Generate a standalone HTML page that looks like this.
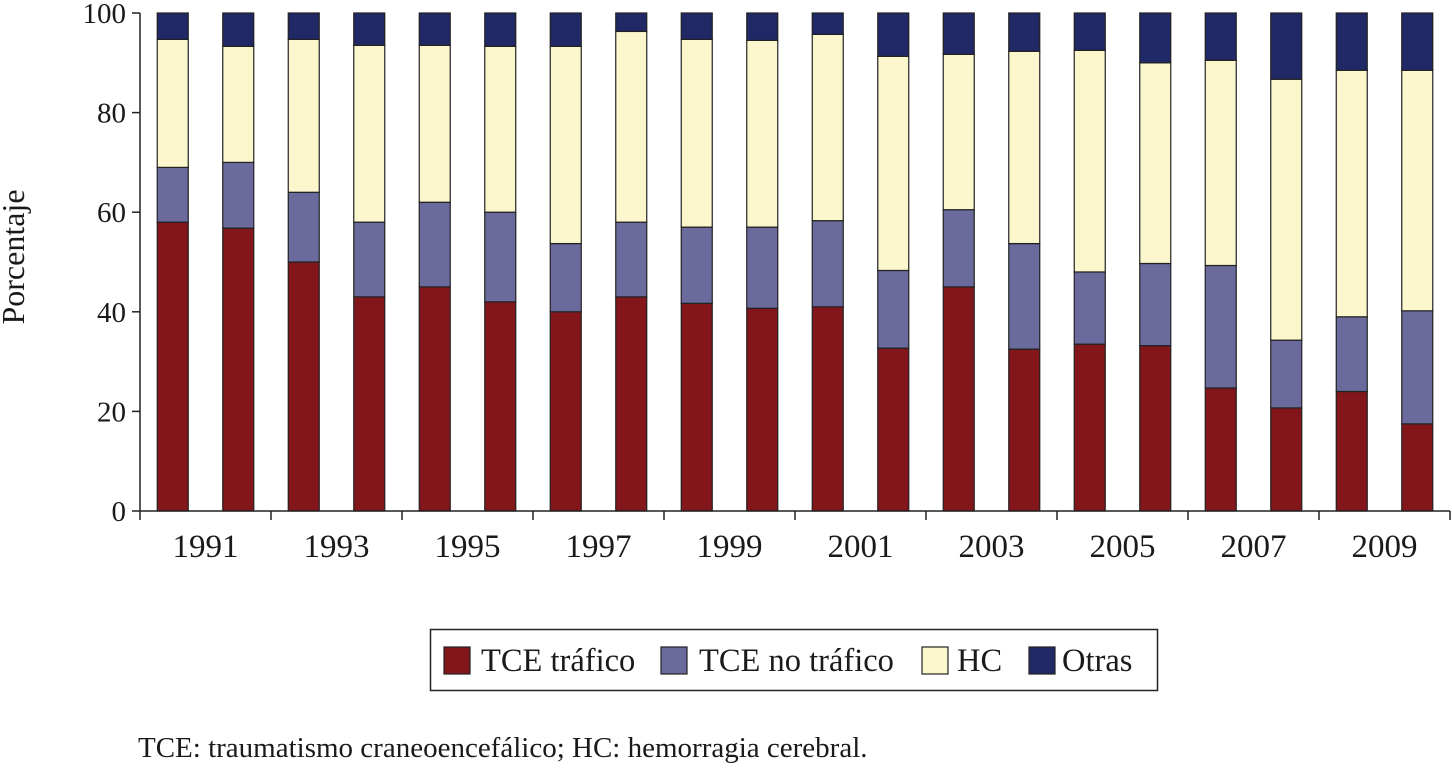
<!DOCTYPE html>
<html><head><meta charset="utf-8"><style>
body{margin:0;background:#fff;}
svg text{font-family:"Liberation Serif",serif;fill:#1a1a1a;}
</style></head><body>
<svg id="c" width="1452" height="764" xmlns="http://www.w3.org/2000/svg"></svg>
<script>
const years=[1991,1992,1993,1994,1995,1996,1997,1998,1999,2000,2001,2002,2003,2004,2005,2006,2007,2008,2009,2010];
const tickLabels=["1991","1993","1995","1997","1999","2001","2003","2005","2007","2009"];
const yTicks=[0,20,40,60,80,100];
const tceTrafico=[58,56.8,50,43,45,42,40,43,41.7,40.7,41,32.7,45,32.5,33.5,33.2,24.7,20.7,24,17.5];
const tceNoTrafico=[11,13.2,14,15,17,18,13.7,15,15.3,16.3,17.3,15.6,15.5,21.2,14.5,16.5,24.6,13.6,15,22.7];
const hc=[25.7,23.3,30.7,35.5,31.5,33.3,39.6,38.3,37.7,37.5,37.4,43,31.2,38.6,44.5,40.3,41.2,52.4,49.5,48.3];
const otras=[5.3,6.7,5.3,6.5,6.5,6.7,6.7,3.7,5.3,5.5,4.3,8.7,8.3,7.7,7.5,10,9.5,13.3,11.5,11.5];
const series=[["tce-trafico",tceTrafico,"#82161b"],["tce-no-trafico",tceNoTrafico,"#6a6a9c"],["hc",hc,"#fbf6cc"],["otras",otras,"#212866"]];
const NS="http://www.w3.org/2000/svg",svg=document.getElementById('c');
const x0=140,x1=1450,y0=511,y1=13,bw=31;
const cw=(x1-x0)/years.length;
const X=i=>x0+cw*(i+0.5);
const Y=v=>y0-(v/100)*(y0-y1);
function mk(t,a,p){const e=document.createElementNS(NS,t);for(const k in a)e.setAttribute(k,a[k]);(p||svg).appendChild(e);return e;}
years.forEach((yr,i)=>{
  let cum=0;
  series.forEach(s=>{
    const v=s[1][i];
    const r=mk('rect',{x:X(i)-bw/2,y:Y(cum+v),width:bw,height:Y(cum)-Y(cum+v),fill:s[2],stroke:'#222','stroke-width':1.2});
    
    
    cum+=v;
  });
});
let a=mk('line',{x1:x0,y1:y1,x2:x0,y2:y0,stroke:'#222','stroke-width':1.5});

a=mk('line',{x1:x0,y1:y0,x2:x1,y2:y0,stroke:'#222','stroke-width':1.5});

yTicks.forEach(v=>{
  const l=mk('line',{x1:x0-8,y1:Y(v),x2:x0,y2:Y(v),stroke:'#222','stroke-width':1.5});
  
  const t=mk('text',{x:x0-14,y:Y(v)+10,'text-anchor':'end','font-size':29});
  t.textContent=v;
  
});
for(let k=0;k<=years.length;k+=2){
  const l=mk('line',{x1:x0+cw*k,y1:y0,x2:x0+cw*k,y2:y0+9,stroke:'#222','stroke-width':1.5});
  
}
tickLabels.forEach((lab,j)=>{
  const t=mk('text',{x:x0+cw*(2*j+1),y:557,'text-anchor':'middle','font-size':33});
  t.textContent=lab;
  
});
let t=mk('text',{x:0,y:0,'text-anchor':'middle','font-size':32,transform:'translate(24,257) rotate(-90)'});
t.textContent='Porcentaje';

const lg=mk('g',{});

mk('rect',{x:430.5,y:629.5,width:727,height:61,fill:'#fff',stroke:'#222','stroke-width':1.5},lg);
const leg=[["TCE tráfico",444,481],["TCE no tráfico",661,699],["HC",922,957],["Otras",1029,1062]];
leg.forEach((L,i)=>{
  const g=mk('g',{},lg);
  
  mk('rect',{x:L[1],y:647,width:26,height:27,fill:series[i][2],stroke:'#222','stroke-width':1.2},g);
  const tt=mk('text',{x:L[2],y:671,'font-size':32.5},g);tt.textContent=L[0];
});
t=mk('text',{x:138,y:757,'font-size':29});
t.textContent='TCE: traumatismo craneoencefálico; HC: hemorragia cerebral.';

</script>
</body></html>
